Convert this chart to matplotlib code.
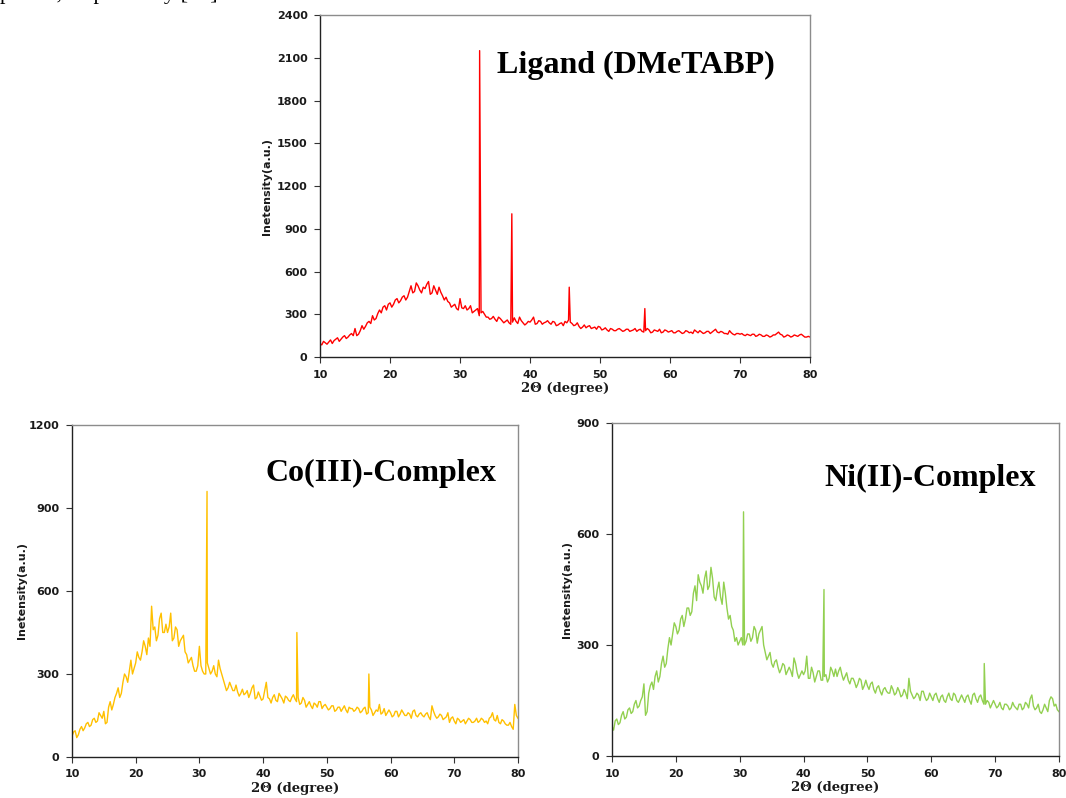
import numpy as np
import matplotlib
matplotlib.use("Agg")
import matplotlib.pyplot as plt

# 2-theta grid of the background profile: whole/half degrees and quarter points between
two_theta = np.arange(10, 80.25, 0.5)
two_theta_mid = np.arange(10.25, 80, 0.5)

ligand_base = [
    95, 110, 90, 120, 115, 135, 125, 150, 140, 165,
    200, 160, 220, 215, 250, 290, 270, 330, 350, 330,
    380, 370, 410, 395, 430, 420, 500, 460, 500, 450,
    480, 530, 450, 470, 490, 430, 420, 380, 360, 340,
    410, 340, 330, 360, 320, 340, 310, 300, 280, 270,
    265, 280, 255, 250, 240, 245, 250, 280, 240, 235,
    245, 280, 235, 250, 240, 255, 230, 245, 225, 240,
    250, 260, 235, 225, 215, 210, 205, 220, 205, 195,
    210, 195, 190, 200, 185, 195, 190, 185, 195, 185,
    200, 190, 180, 185, 190, 175, 185, 195, 175, 185,
    180, 170, 180, 175, 170, 180, 175, 190, 170, 175,
    170, 180, 175, 195, 170, 175, 165, 185, 160, 165,
    160, 155, 160, 150, 160, 150, 155, 145, 150, 145,
    155, 175, 155, 145, 150, 145, 150, 155, 150, 140,
    140,
]
ligand_mid = [
    85, 100, 105, 95, 125, 110, 140, 130, 155, 150,
    150, 185, 195, 240, 235, 260, 305, 310, 360, 370,
    350, 400, 380, 420, 400, 460, 450, 520, 470, 490,
    510, 440, 500, 440, 455, 400, 390, 350, 370, 330,
    345, 360, 340, 310, 330, 290, 320, 280, 265, 285,
    250, 270, 240, 260, 230, 275, 235, 255, 225, 250,
    260, 230, 255, 230, 245, 240, 250, 220, 235, 220,
    240, 245, 220, 240, 200, 225, 215, 200, 210, 215,
    190, 205, 180, 195, 185, 200, 180, 195, 180, 190,
    180, 195, 175, 200, 170, 190, 180, 170, 190, 175,
    185, 170, 185, 165, 185, 170, 165, 180, 185, 165,
    180, 165, 185, 175, 180, 165, 160, 170, 155, 165,
    165, 150, 155, 160, 145, 160, 145, 155, 140, 155,
    165, 160, 140, 155, 140, 155, 145, 160, 140, 145,
]
ligand_peak_pos = [32.8, 37.4, 45.6, 56.4]
ligand_peak_int = [2150, 1005, 490, 340]

co_base = [
    75, 95, 80, 110, 105, 125, 115, 140, 130, 150,
    165, 125, 200, 190, 230, 215, 270, 290, 310, 300,
    340, 360, 380, 400, 430, 545, 470, 440, 520, 450,
    450, 520, 430, 460, 420, 440, 370, 350, 330, 310,
    400, 310, 300, 320, 310, 300, 350, 300, 260, 250,
    255, 240, 235, 230, 225, 240, 230, 260, 215, 220,
    210, 270, 210, 215, 205, 230, 210, 220, 205, 215,
    210, 215, 195, 205, 190, 185, 195, 180, 200, 185,
    180, 175, 185, 170, 180, 175, 170, 180, 175, 170,
    175, 165, 180, 160, 170, 160, 165, 155, 175, 160,
    160, 150, 165, 155, 160, 150, 155, 165, 150, 155,
    150, 155, 145, 185, 150, 145, 150, 140, 160, 140,
    130, 140, 125, 135, 130, 135, 125, 140, 130, 135,
    130, 140, 160, 130, 125, 135, 120, 115, 110, 190,
    140,
]
co_mid = [
    90, 70, 100, 95, 120, 110, 135, 125, 160, 140,
    120, 180, 170, 215, 250, 230, 300, 270, 350, 320,
    380, 350, 420, 370, 400, 460, 420, 500, 450, 480,
    470, 420, 470, 400, 430, 380, 340, 360, 310, 330,
    330, 300, 340, 300, 330, 290, 320, 280, 240, 270,
    240, 260, 220, 245, 230, 215, 250, 210, 235, 205,
    240, 215, 195, 225, 200, 220, 195, 215, 200, 225,
    200, 190, 215, 180, 200, 175, 190, 200, 175, 190,
    170, 185, 165, 180, 165, 185, 160, 175, 165, 180,
    160, 175, 155, 180, 150, 170, 190, 160, 150, 170,
    145, 165, 145, 170, 150, 160, 140, 170, 145, 160,
    145, 160, 135, 165, 140, 155, 135, 145, 125, 145,
    120, 135, 130, 120, 140, 125, 130, 125, 140, 125,
    120, 145, 135, 150, 120, 130, 115, 125, 100, 150,
]
co_peak_pos = [31.2, 45.3, 56.6]
co_peak_int = [960, 450, 300]

ni_base = [
    80, 95, 85, 110, 100, 125, 115, 140, 130, 150,
    195, 120, 190, 180, 230, 215, 270, 250, 320, 330,
    350, 340, 380, 370, 400, 390, 460, 490, 460, 480,
    450, 510, 430, 450, 430, 470, 400, 380, 340, 320,
    310, 300, 310, 330, 320, 340, 330, 350, 280, 270,
    250, 255, 240, 235, 245, 230, 230, 265, 225, 220,
    220, 270, 210, 225, 215, 230, 205, 220, 210, 230,
    235, 230, 220, 215, 205, 210, 200, 195, 205, 190,
    190, 195, 180, 185, 175, 180, 175, 170, 180, 170,
    175, 165, 170, 210, 165, 160, 165, 175, 160, 155,
    160, 165, 155, 160, 150, 160, 155, 170, 150, 155,
    155, 160, 150, 165, 155, 160, 150, 140, 145, 140,
    140, 135, 130, 140, 135, 130, 135, 125, 140, 130,
    140, 155, 135, 130, 120, 125, 130, 150, 155, 140,
    120,
]
ni_mid = [
    70, 100, 90, 120, 105, 130, 120, 150, 135, 160,
    110, 170, 200, 215, 200, 250, 240, 290, 300, 360,
    330, 370, 350, 400, 380, 440, 420, 470, 440, 500,
    460, 480, 420, 470, 410, 440, 370, 350, 310, 300,
    320, 300, 330, 310, 350, 305, 340, 300, 260, 280,
    240, 260, 225, 250, 220, 240, 215, 250, 210, 230,
    230, 210, 240, 200, 230, 205, 215, 200, 240, 215,
    215, 240, 205, 225, 195, 210, 185, 210, 180, 205,
    180, 200, 170, 190, 165, 185, 170, 190, 165, 185,
    160, 180, 155, 175, 155, 170, 150, 175, 150, 170,
    150, 170, 145, 165, 145, 170, 150, 165, 145, 165,
    145, 165, 140, 170, 145, 165, 140, 150, 130, 150,
    130, 145, 125, 140, 125, 145, 130, 140, 125, 145,
    130, 165, 125, 140, 115, 140, 120, 160, 135, 125,
]
ni_peak_pos = [30.6, 43.2, 68.3]
ni_peak_int = [660, 450, 250]

x_ticks = [10, 20, 30, 40, 50, 60, 70, 80]


def merge(base, mid, pos, inten):
    x = np.concatenate([two_theta, two_theta_mid, pos])
    y = np.concatenate([base, mid, inten])
    order = np.argsort(x)
    return x[order], y[order]


def style_axes(ax, ymax, ystep, ypad):
    ax.set_xlim(10, 80)
    ax.set_ylim(0, ymax)
    ax.set_xticks(x_ticks)
    ax.set_yticks(np.arange(0, ymax + 1, ystep))
    for side in ["left", "bottom"]:
        ax.spines[side].set_color("#222222")
        ax.spines[side].set_linewidth(1.0)
    for side in ["top", "right"]:
        ax.spines[side].set_color("#8c8c8c")
        ax.spines[side].set_linewidth(1.0)
    ax.tick_params(direction="out", length=4, width=0.8, color="#333333",
                   labelsize=8, labelcolor="#1a1a1a", pad=5)
    for lab in ax.get_xticklabels() + ax.get_yticklabels():
        lab.set_fontweight("bold")
    ax.set_ylabel("Inetensity(a.u.)", fontsize=8, fontweight="bold",
                  color="#1a1a1a", labelpad=ypad)
    ax.set_xlabel("2\u0398 (degree)", fontsize=9.5, fontweight="bold",
                  family="DejaVu Serif", color="#1a1a1a", labelpad=2)


fig = plt.figure(figsize=(10.66, 7.98), dpi=100)

ax1 = fig.add_axes([0.3002, 0.5526, 0.4597, 0.4286])
x, y = merge(ligand_base, ligand_mid, ligand_peak_pos, ligand_peak_int)
ax1.plot(x, y, color="#ff0000", lw=1.0)
style_axes(ax1, 2400, 300, 3)
ax1.text(35.3, 2049, "Ligand (DMeTABP)", fontsize=23, fontweight="bold",
         family="Liberation Serif", ha="left", va="center")

ax2 = fig.add_axes([0.0675, 0.0514, 0.4184, 0.4160])
x, y = merge(co_base, co_mid, co_peak_pos, co_peak_int)
ax2.plot(x, y, color="#ffc000", lw=1.0)
style_axes(ax2, 1200, 300, 1)
ax2.text(40.3, 1026, "Co(III)-Complex", fontsize=23, fontweight="bold",
         family="Liberation Serif", ha="left", va="center")

ax3 = fig.add_axes([0.5741, 0.0526, 0.4193, 0.4173])
x, y = merge(ni_base, ni_mid, ni_peak_pos, ni_peak_int)
ax3.plot(x, y, color="#92d050", lw=1.0)
style_axes(ax3, 900, 300, 3)
ax3.text(43.2, 751, "Ni(II)-Complex", fontsize=23, fontweight="bold",
         family="Liberation Serif", ha="left", va="center")

# cropped line of body text at the very top of the page
fig.text(0.0, 1.0 + 1.0 / 798, "plexes, respectively [24].", fontsize=16,
         family="Liberation Serif", ha="left", va="baseline")

fig.savefig("out.png", dpi=100)
